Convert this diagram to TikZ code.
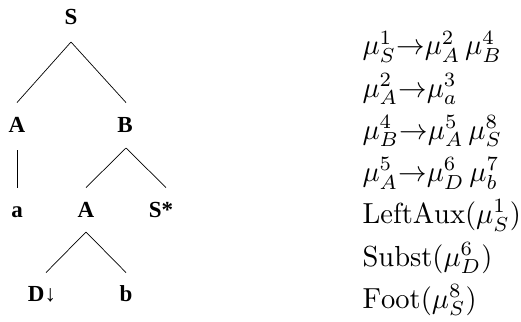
\documentclass[tikz,border=0pt]{standalone}
\usepackage{fontspec}
\newfontfamily\treefont{Liberation Serif}
\newcommand\marr{\mathord{\rightarrow}}
\begin{document}
\begin{tikzpicture}[x=1pt,y=-1pt,
  lbl/.style={font=\treefont\bfseries, scale=2.3, inner sep=0pt, text height=6.6pt, text depth=0pt, anchor=base},
  mth/.style={anchor=base west, inner sep=0pt, xscale=2.85, yscale=2.9},
  edge/.style={line width=0.7pt}]
\useasboundingbox (0,0) rectangle (521,321);
% tree labels
\node[lbl] (S) at (71,24.5) {S};
\node[lbl] (A) at (17,132.5) {A};
\node[lbl] (B) at (125,132.5) {B};
\node[lbl] (a) at (17,217.5) {a};
\node[lbl] (A2) at (86,217.5) {A};
\node[lbl] (Sstar) at (161,217.5) {S*};
\node[lbl] (D) at (42,301.5) {D↓};
\node[lbl] (b) at (126,301.5) {b};
% edges
\draw[edge] ([yshift=-17.5pt]S.base) -- ([yshift=14.3pt]A.north);
\draw[edge] ([yshift=-17.5pt]S.base) -- ([xshift=1pt,yshift=14.3pt]B.north);
\draw[edge] ([yshift=-17.5pt]A.base) -- ([yshift=14.3pt]a.north);
\draw[edge] ([xshift=1pt,yshift=-15.5pt]B.base) -- ([yshift=14.3pt]A2.north);
\draw[edge] ([xshift=1pt,yshift=-15.5pt]B.base) -- ([xshift=5pt,yshift=14.3pt]Sstar.north);
\draw[edge] ([yshift=-14.5pt]A2.base) -- ([xshift=4pt,yshift=13.3pt]D.north);
\draw[edge] ([yshift=-14.5pt]A2.base) -- ([yshift=13.3pt]b.north);
% math
\node[mth] (m1) at (362,55) {$\mu^1_S\marr\mu^2_A\,\mu^4_B$};
\node[mth] (m2) at (362,97) {$\mu^2_A\marr\mu^3_a$};
\node[mth] (m3) at (362,139) {$\mu^4_B\marr\mu^5_A\,\mu^8_S$};
\node[mth] (m4) at (362,181.5) {$\mu^5_A\marr\mu^6_D\,\mu^7_b$};
\node[mth] (m5) at (362,223.5) {$\mathrm{LeftAux}(\mu^1_S)$};
\node[mth] (m6) at (362,266) {$\mathrm{Subst}(\mu^6_D)$};
\node[mth] (m7) at (362,308) {$\mathrm{Foot}(\mu^8_S)$};
\end{tikzpicture}
\end{document}
